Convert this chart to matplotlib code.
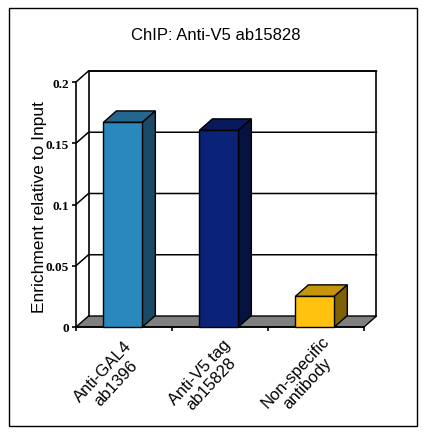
import matplotlib
matplotlib.use('Agg')
from matplotlib import pyplot as plt
from matplotlib.patches import Polygon, Rectangle

plt.rcParams['font.family'] = ['Liberation Sans', 'DejaVu Sans']

W, H = 424, 435
labels = ['Anti-GAL4\nab1396', 'Anti-V5 tag\nab15828', 'Non-specific\nantibody']
values = [0.167, 0.1605, 0.025]
yticks = [0, 0.05, 0.1, 0.15, 0.2]
ytick_labels = ['0', '0.05', '0.1', '0.15', '0.2']
front_colors = ['#2A88BC', '#0A2277', '#FFC20E']
top_colors = ['#25668E', '#081A5C', '#C49508']
side_colors = ['#1B4A66', '#06123F', '#7E6005']

fig = plt.figure(figsize=(W / 100, H / 100), dpi=100)
# plot box, pixels from the picture
left, right, top, bottom = 76, 364, 83, 328
ax = fig.add_axes([left / W, 1 - bottom / H, (right - left) / W, (bottom - top) / H])
ax.set_xlim(0, 3)
ax.set_ylim(0, 0.2)
ax.patch.set_visible(False)

# depth of the fake 3d box in data units
dx = 12.5 / 96
dy = 11 * 0.2 / 245
bdx = 13 / 96
bdy = 11.5 * 0.2 / 245
width = 39 / 96

for s in ['top', 'right']:
    ax.spines[s].set_visible(False)
for s in ['left', 'bottom']:
    ax.spines[s].set_linewidth(1.2)

# walls and floor
ax.add_patch(Polygon([(0, 0), (3, 0), (3 + dx, dy), (dx, dy)], fc='#808080', ec='k', lw=1, zorder=1, clip_on=False))
ax.plot([dx, dx, 3 + dx, 3 + dx], [dy, 0.2 + dy, 0.2 + dy, dy], color='k', lw=1.2, zorder=1, clip_on=False)
for t in yticks[1:]:
    ax.plot([0, dx, 3 + dx], [t, t + dy, t + dy], color='k', lw=1.1, zorder=1, clip_on=False)

# bars
for i, v in enumerate(values):
    x0 = i + 0.5 - width / 2 - 0.012
    x1 = x0 + width
    ax.add_patch(Polygon([(x0, v), (x1, v), (x1 + bdx, v + bdy), (x0 + bdx, v + bdy)],
                         fc=top_colors[i], ec='k', lw=1, zorder=3, clip_on=False))
    ax.add_patch(Polygon([(x1, 0), (x1 + bdx, bdy), (x1 + bdx, v + bdy), (x1, v)],
                         fc=side_colors[i], ec='k', lw=1, zorder=3, clip_on=False))
    ax.add_patch(Rectangle((x0, 0), width, v, fc=front_colors[i], ec='k', lw=1, zorder=4, clip_on=False))

ax.set_yticks(yticks)
ax.set_yticklabels(ytick_labels, fontsize=9.5, fontweight='bold', family='Liberation Serif')
ax.tick_params(axis='y', length=3, width=1.2, pad=2)
ax.set_xticks([0, 1, 2, 3])
ax.set_xticklabels([])
ax.tick_params(axis='x', length=3, width=1.2)
for i, lab in enumerate(labels):
    ax.annotate(lab, (i + 0.5, 0), xytext=(-10.5, -36), textcoords='offset points', rotation=47,
                ha='center', va='center', rotation_mode='anchor', multialignment='center',
                fontsize=12, linespacing=1.15, annotation_clip=False)

fig.text(216 / W, 1 - 36 / H, 'ChIP: Anti-V5 ab15828', ha='center', va='center', fontsize=12)
fig.text(40 / W, 1 - 207 / H, 'Enrichment relative to Input', rotation=90, ha='center', va='center', fontsize=12.5)

# outer chart frame
fig.add_artist(Rectangle((8.5 / W, 1 - 427 / H), 408 / W, 418 / H, transform=fig.transFigure,
                         fill=False, ec='k', lw=1))

fig.savefig('out.png', dpi=100)
